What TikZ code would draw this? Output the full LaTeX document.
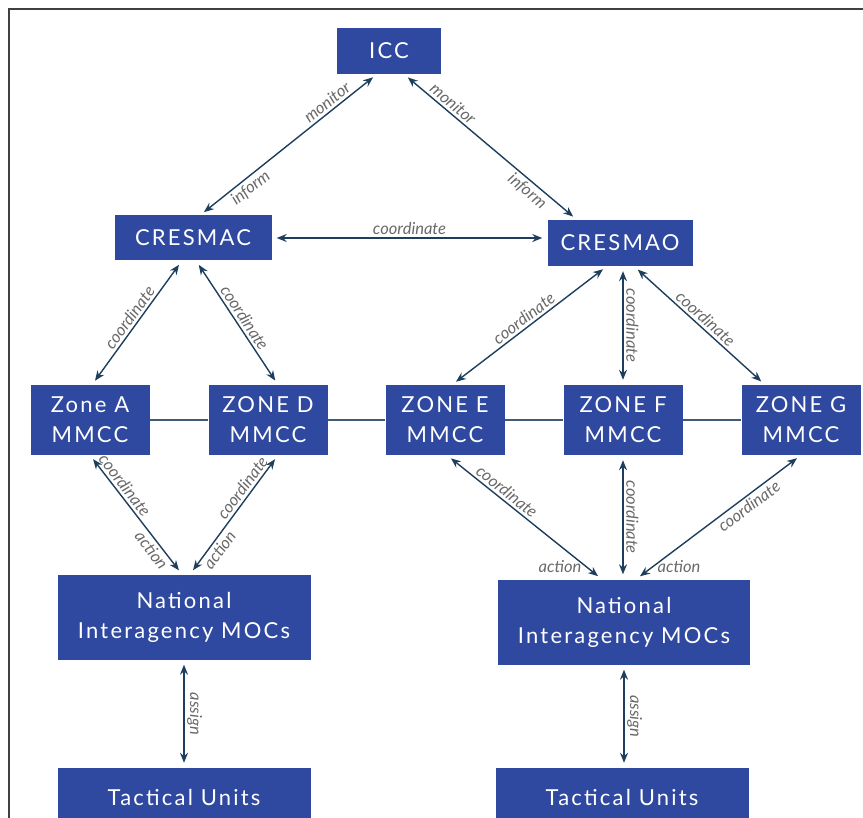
\documentclass[tikz,border=0pt]{standalone}
\usepackage{fontspec}
\setmainfont{Lato}
\newfontfamily\boxfont[LetterSpace=10]{Lato}
\usetikzlibrary{arrows.meta}
\definecolor{boxblue}{RGB}{48,73,160}
\definecolor{linkcol}{RGB}{29,62,92}
\definecolor{relgray}{RGB}{105,105,105}

\begin{document}
\begin{tikzpicture}[x=1pt,y=-1pt,
  unitbox/.style={fill=boxblue,text=white,align=center,inner sep=0pt,
    font=\boxfont\fontsize{22}{30}\selectfont},
  link/.style={draw=linkcol,line width=1.4pt,shorten <=5pt,shorten >=5pt,
    {Stealth[length=10pt,width=8pt]}-{Stealth[length=10pt,width=8pt]}},
  relnode/.style={font=\itshape\fontsize{16.5}{18}\selectfont,text=relgray,inner sep=2.5pt}]

\useasboundingbox (0,0) rectangle (863,818);

% frame of the figure
\draw[black!75,line width=1.5pt] (9,818) -- (9,9) -- (863,9);

% Top level
\node[unitbox,minimum width=104,minimum height=46] (icc) at (389,51) {ICC};

% Regional centres
\node[unitbox,minimum width=157,minimum height=45] (cresmac) at (193,238) {CRESMAC};
\node[unitbox,minimum width=145,minimum height=46] (cresmao) at (620,243) {CRESMAO};

% Zone MMCCs
\foreach \zname/\zx/\ztxt in {zoneA/90/Zone A,zoneD/268/ZONE D,zoneE/445/ZONE E,zoneF/623/ZONE F,zoneG/801/ZONE G}
  \node[unitbox,minimum width=119,minimum height=70] (\zname) at (\zx,420) {\ztxt\\MMCC};

% line between the zones
\foreach \za/\zb in {zoneA/zoneD,zoneD/zoneE,zoneE/zoneF,zoneF/zoneG}
  \draw[linkcol!85,line width=1.2pt] (\za.east) -- (\zb.west);

% National MOCs
\node[unitbox,minimum width=253,minimum height=85] (mocL) at (184,617) {National\\Interagency MOCs};
\node[unitbox,minimum width=252,minimum height=85] (mocR) at (624,622) {National\\Interagency MOCs};

% Tactical units (cut at the bottom)
\node[unitbox,minimum width=253,minimum height=58] (tacL) at (184,797) {Tactical Units};
\node[unitbox,minimum width=253,minimum height=58] (tacR) at (622,797) {Tactical Units};

% ICC <-> CRESMAC / CRESMAO
\draw[link] ([xshift=-12]icc.south) --
  node[relnode,pos=.25,above,sloped] {monitor}
  node[relnode,pos=.75,below,sloped] {inform} ([xshift=7]cresmac.north);
\draw[link] ([xshift=15]icc.south) --
  node[relnode,pos=.25,above,sloped] {monitor}
  node[relnode,pos=.75,below,sloped] {inform} ([xshift=-43]cresmao.north);
\draw[link] (cresmac.east) -- node[relnode,above] {coordinate} (cresmac.east -| cresmao.west);

% CRESMAC <-> zones
\draw[link] ([xshift=-11]cresmac.south) -- node[relnode,above,sloped] {coordinate} ([xshift=2]zoneA.north);
\draw[link] ([xshift=3]cresmac.south) -- node[relnode,above,sloped] {coordinate} ([xshift=10]zoneD.north);

% CRESMAO <-> zones
\draw[link] ([xshift=-13]cresmao.south) -- node[relnode,above,sloped] {coordinate} ([xshift=7]zoneE.north);
\draw[link] ([xshift=3]cresmao.south) -- node[relnode,rotate=-90,anchor=south] {coordinate} (zoneF.north);
\draw[link] ([xshift=14]cresmao.south) -- node[relnode,above,sloped] {coordinate} ([xshift=-36]zoneG.north);

% zones <-> left MOCs
\draw[link] (zoneA.south) --
  node[relnode,pos=.3,above,sloped] {coordinate}
  node[relnode,pos=.75,below,sloped] {action} ([xshift=-2]mocL.north);
\draw[link] ([xshift=10]zoneD.south) --
  node[relnode,pos=.32,above,sloped] {coordinate}
  node[relnode,pos=.75,below,sloped] {action} ([xshift=6]mocL.north);

% zones <-> right MOCs
\draw[link] ([xshift=2]zoneE.south) --
  node[relnode,pos=.35,above,sloped] {coordinate}
  node[relnode,pos=.9,left=2pt] {action} ([xshift=-22]mocR.north);
\draw[link] (zoneF.south) -- node[relnode,rotate=-90,anchor=south] {coordinate} (zoneF.south |- mocR.north);
\draw[link] (zoneG.south) --
  node[relnode,pos=.35,below,sloped] {coordinate}
  node[relnode,pos=.9,right=2pt] {action} ([xshift=12]mocR.north);

% MOCs <-> tactical units
\draw[link] (mocL.south) -- node[relnode,rotate=-90,anchor=south] {assign} (tacL.north);
\draw[link] (mocR.south) -- node[relnode,rotate=-90,anchor=south] {assign} (mocR.south |- tacR.north);

\end{tikzpicture}
\end{document}
